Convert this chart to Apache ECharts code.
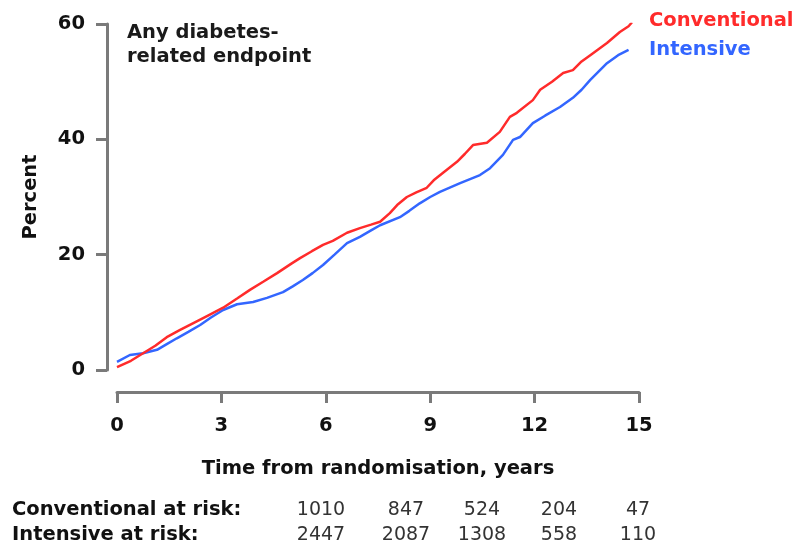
<!DOCTYPE html>
<html><head><meta charset="utf-8">
<script src="https://cdn.jsdelivr.net/npm/echarts@6/dist/echarts.min.js"></script>
<style>html,body{margin:0;padding:0;background:#fff}#c{width:798px;height:547px}</style>
</head><body><div id="c"></div>
<script>
const conventional = [[0,0.5],[0.4,1.6],[0.75,2.9],[1.1,4.2],[1.43,5.7],[1.8,6.9],[2.18,8.1],[2.6,9.4],[3.05,10.8],[3.45,12.4],[3.82,13.9],[4.2,15.3],[4.6,16.8],[5.0,18.4],[5.26,19.4],[5.6,20.6],[5.92,21.7],[6.2,22.4],[6.61,23.8],[6.98,24.6],[7.3,25.2],[7.56,25.7],[7.84,27.2],[8.05,28.6],[8.33,30.0],[8.6,30.8],[8.9,31.6],[9.1,32.9],[9.37,34.2],[9.77,36.1],[10.0,37.5],[10.23,39.0],[10.63,39.4],[11.0,41.3],[11.29,43.9],[11.49,44.6],[11.95,46.8],[12.16,48.6],[12.5,50.0],[12.82,51.5],[13.1,52.0],[13.35,53.5],[13.6,54.6],[14.08,56.7],[14.45,58.6],[14.7,59.6],[14.8,60.3]];
const intensive = [[0,1.4],[0.37,2.6],[0.75,2.9],[1.15,3.5],[1.43,4.5],[1.72,5.5],[2.05,6.6],[2.39,7.8],[2.7,9.1],[3.05,10.4],[3.45,11.4],[3.91,11.8],[4.31,12.5],[4.77,13.5],[5.05,14.5],[5.34,15.6],[5.62,16.8],[5.92,18.2],[6.25,20.0],[6.61,22.0],[6.98,23.1],[7.3,24.2],[7.56,25.1],[8.13,26.5],[8.4,27.6],[8.7,28.9],[9.0,30.0],[9.28,30.9],[9.86,32.4],[10.43,33.8],[10.72,35.0],[11.09,37.3],[11.38,39.9],[11.58,40.4],[11.95,42.8],[12.3,44.1],[12.73,45.6],[13.1,47.2],[13.35,48.6],[13.6,50.3],[14.08,53.2],[14.4,54.6],[14.7,55.5]];
const seriesNames = ['Conventional','Intensive'];
const xTicks = [0,3,6,9,12,15];
const yTicks = [0,20,40,60];
const riskRowLabels = ['Conventional at risk:','Intensive at risk:'];
const conventionalAtRisk = [1010,847,524,204,47];
const intensiveAtRisk = [2447,2087,1308,558,110];

const FONT = 'DejaVu Sans';
const FS = 19.5;
const FN = 19;
const RED = '#ff2b2b', BLUE = '#3366ff', AXIS = '#7a7a7a';
const riskX = [321,406,482,559,638];
const riskY = [510,535];

const graphics = [];
graphics.push({type:'text', left:127, top:21, style:{text:'Any diabetes-\nrelated endpoint', font:'bold '+FS+'px '+FONT, fill:'#1a1a1a', lineHeight:24}});
riskRowLabels.forEach((t,i)=>{
  graphics.push({type:'text', x:12, y:riskY[i], style:{text:t, font:'bold '+FS+'px '+FONT, fill:'#111', textVerticalAlign:'middle'}});
});
[conventionalAtRisk, intensiveAtRisk].forEach((row,i)=>{
  row.forEach((v,j)=>{
    graphics.push({type:'text', x:riskX[j], y:riskY[i], style:{text:String(v), font:FN+'px '+FONT, fill:'#333', textAlign:'center', textVerticalAlign:'middle'}});
  });
});

const chart = echarts.init(document.getElementById('c'));
chart.setOption({
  animation:false,
  backgroundColor:'#fff',
  grid:{left:117, right:159, top:24, bottom:177, containLabel:false},
  legend:{
    orient:'vertical', left:639, top:6, itemWidth:0, itemHeight:0, itemGap:9, icon:'rect',
    data:[{name:seriesNames[0], textStyle:{color:RED}},{name:seriesNames[1], textStyle:{color:BLUE}}],
    textStyle:{fontFamily:FONT, fontWeight:'bold', fontSize:FS}
  },
  xAxis:{
    type:'value', min:0, max:15, interval:3, offset:22,
    name:'Time from randomisation, years', nameLocation:'middle', nameGap:67,
    nameTextStyle:{fontFamily:FONT, fontWeight:'bold', fontSize:FS, color:'#111'},
    axisLine:{onZero:false, lineStyle:{color:AXIS, width:3}},
    axisTick:{length:11, lineStyle:{color:AXIS, width:3}},
    axisLabel:{margin:24, fontFamily:FONT, fontWeight:'bold', fontSize:FS, color:'#111', formatter:v=>xTicks.includes(v)?String(v):''},
    splitLine:{show:false}
  },
  yAxis:{
    type:'value', min:0, max:60, interval:20, offset:10,
    name:'Percent', nameLocation:'middle', nameGap:66, nameRotate:90,
    nameTextStyle:{fontFamily:FONT, fontWeight:'bold', fontSize:FS, color:'#111'},
    axisLine:{onZero:false, lineStyle:{color:AXIS, width:3}},
    axisTick:{length:11, lineStyle:{color:AXIS, width:3}},
    axisLabel:{margin:22, fontFamily:FONT, fontWeight:'bold', fontSize:FS, color:'#111', formatter:v=>yTicks.includes(v)?String(v):''},
    splitLine:{show:false}
  },
  series:[
    {name:seriesNames[0], type:'line', data:conventional, showSymbol:false, symbol:'none', lineStyle:{color:RED, width:2.5}, itemStyle:{color:RED}, z:3},
    {name:seriesNames[1], type:'line', data:intensive, showSymbol:false, symbol:'none', lineStyle:{color:BLUE, width:2.5}, itemStyle:{color:BLUE}, z:2}
  ],
  graphic:graphics
});
</script></body></html>
